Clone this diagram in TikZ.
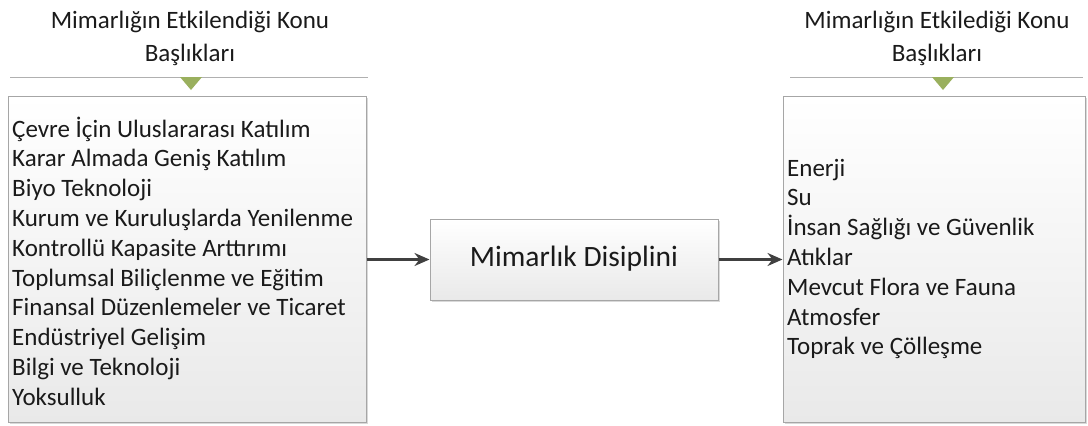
\documentclass[tikz,border=0pt]{standalone}
\usepackage{fontspec}
\setmainfont{Carlito}
\usetikzlibrary{arrows.meta,shadows}
\definecolor{boxline}{HTML}{A6A6A6}
\definecolor{boxfill}{HTML}{E9E9E9}
\definecolor{rulegray}{HTML}{B0B0B0}
\definecolor{tri}{HTML}{9AB05E}
\definecolor{arrowc}{HTML}{404040}
\definecolor{txt}{HTML}{1A1A1A}
\tikzset{
  panel/.style={draw=boxline, line width=1pt, top color=white, bottom color=boxfill,
    drop shadow={shadow xshift=1.5pt, shadow yshift=-1.5pt, fill=black!25, opacity=0.6}},
  listtext/.style={anchor=west, align=left, text=txt, font=\fontsize{25}{29.8}\selectfont, inner sep=0pt},
  headtext/.style={align=center, text=txt, font=\fontsize{25}{33}\selectfont, inner sep=0pt},
  headrule/.style={draw=rulegray, line width=0.8pt},
  marker/.style={fill=tri, draw=none},
  flow/.style={draw=arrowc, line width=2.2pt, -{Stealth[length=15pt,width=13pt]}},
}
\begin{document}
\begin{tikzpicture}[x=1pt,y=-1pt]
\useasboundingbox (0,0) rectangle (1088,426);

% left column
\node[headtext] (hl) at (190,38.5) {Mimarlığın Etkilendiği Konu\\Başlıkları};
\coordinate (hla) at (10,77);
\coordinate (hlb) at (368,77);
\draw[headrule] (hla) -- (hlb);
\fill[marker] (180,77) -- (202,77) -- (191,90) -- cycle;
\node[panel, minimum width=358pt, minimum height=326pt] (lb) at (187,259.5) {};
\node[listtext] (lt) at (12,261) {Çevre İçin Uluslararası Katılım\\Karar Almada Geniş Katılım\\Biyo Teknoloji\\Kurum ve Kuruluşlarda Yenilenme\\Kontrollü Kapasite Arttırımı\\Toplumsal Biliçlenme ve Eğitim\\Finansal Düzenlemeler ve Ticaret\\Endüstriyel Gelişim\\Bilgi ve Teknoloji\\Yoksulluk};

% middle
\node[panel, minimum width=288pt, minimum height=81pt] (mid) at (574,259.5) {};
\node[text=txt, font=\fontsize{29.5}{34}\selectfont, inner sep=0pt] (mt) at (574,259) {Mimarlık Disiplini};

% right column
\node[headtext] (hr) at (937,38.5) {Mimarlığın Etkilediği Konu\\Başlıkları};
\coordinate (hra) at (790,77);
\coordinate (hrb) at (1083,77);
\draw[headrule] (hra) -- (hrb);
\fill[marker] (932,77) -- (954,77) -- (943,90) -- cycle;
\node[panel, minimum width=302pt, minimum height=326pt] (rb) at (934,259.5) {};
\node[listtext] (rt) at (787,259) {Enerji\\Su\\İnsan Sağlığı ve Güvenlik\\Atıklar\\Mevcut Flora ve Fauna\\Atmosfer\\Toprak ve Çölleşme};

% connectors
\draw[flow] (lb.east |- mid.west) -- (mid.west);
\draw[flow] (mid.east) -- (rb.west |- mid.east);
\end{tikzpicture}
\end{document}
